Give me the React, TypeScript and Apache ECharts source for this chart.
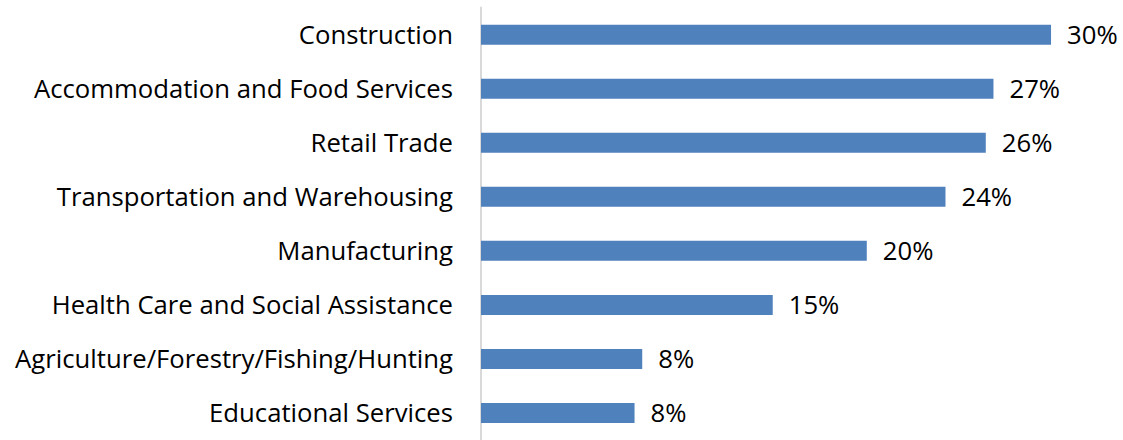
import React, { useEffect, useRef } from "react";
import * as echarts from "echarts";

const categories = [
  "Construction",
  "Accommodation and Food Services",
  "Retail Trade",
  "Transportation and Warehousing",
  "Manufacturing",
  "Health Care and Social Assistance",
  "Agriculture/Forestry/Fishing/Hunting",
  "Educational Services",
];
const values = [29.7, 26.7, 26.3, 24.2, 20.1, 15.2, 8.4, 8.0];

export default function App() {
  const ref = useRef<HTMLDivElement>(null);
  useEffect(() => {
    if (!ref.current) return;
    const chart = echarts.init(ref.current, null, { renderer: "svg" });
    const font = "Open Sans";
    chart.setOption({
      animation: false,
      backgroundColor: "#ffffff",
      grid: { left: 481, top: 7.6, width: 575.8, height: 438.9, containLabel: false },
      xAxis: {
        type: "value",
        min: 0,
        max: 30,
        show: false,
      },
      yAxis: {
        type: "category",
        inverse: true,
        data: categories,
        axisLine: { show: true, lineStyle: { color: "#d9d9d9", width: 2 } },
        axisTick: { show: false },
        axisLabel: {
          margin: 28,
          color: "#000000",
          fontFamily: font,
          fontSize: 25.7,
        },
      },
      series: [
        {
          type: "bar",
          data: values,
          barWidth: 20,
          itemStyle: { color: "#4f81bd" },
          label: {
            show: true,
            position: "right",
            distance: 16,
            color: "#000000",
            fontFamily: font,
            fontSize: 25.7,
            formatter: (p: any) => Math.round(p.value) + "%",
          },
        },
      ],
    });
    return () => chart.dispose();
  }, []);
  return (
    <div
      ref={ref}
      style={{ position: "fixed", left: 0, top: 0, width: 1123, height: 440 }}
    />
  );
}
